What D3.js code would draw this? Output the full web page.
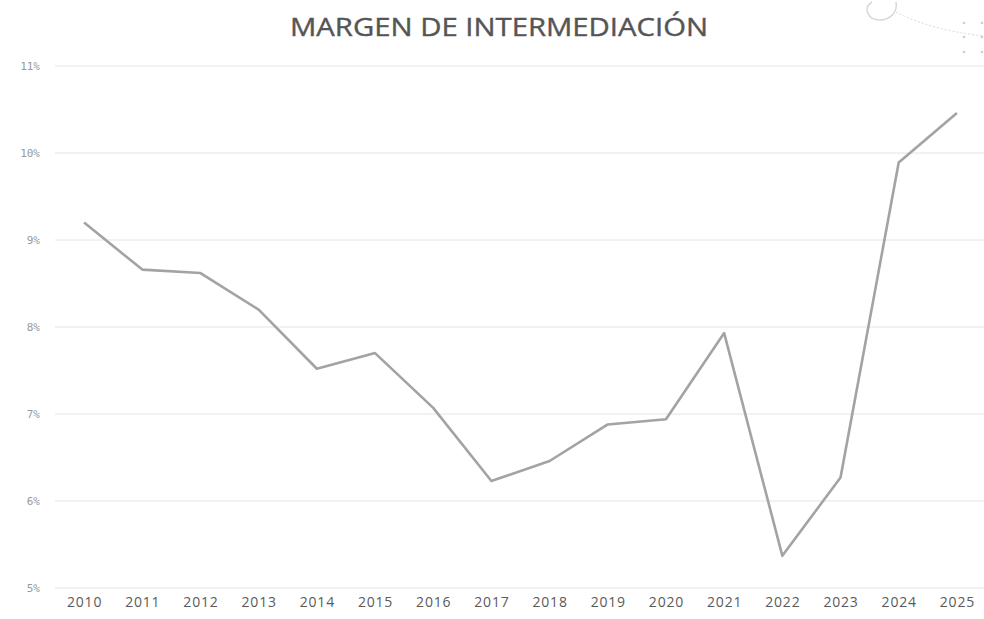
<!DOCTYPE html>
<html>
<head>
<meta charset="utf-8">
<script src="https://cdn.jsdelivr.net/npm/d3@7"></script>
<style>
  html, body { margin: 0; padding: 0; background: #fff; }
  svg { display: block; }
</style>
</head>
<body>
<div id="chart"></div>
<script>
// data
var years = ["2010", "2011", "2012", "2013", "2014", "2015", "2016", "2017",
             "2018", "2019", "2020", "2021", "2022", "2023", "2024", "2025"];
var margen = [9.2, 8.66, 8.62, 8.2, 7.52, 7.7, 7.07, 6.23,
              6.46, 6.88, 6.94, 7.93, 5.37, 6.27, 9.89, 10.46];
var yTicks = [5, 6, 7, 8, 9, 10, 11];

var svgWidth = 984;
var svgHeight = 619;

var svg = d3.select("#chart")
    .append("svg")
    .attr("width", svgWidth)
    .attr("height", svgHeight);

// scales
var xScale = d3.scalePoint()
    .domain(years)
    .range([55, 986])
    .padding(0.5);

var yScale = d3.scaleLinear()
    .domain([5, 11])
    .range([588, 66]);

// gridlines
svg.append("g")
    .selectAll("line")
    .data(yTicks)
    .enter()
    .append("line")
    .attr("x1", 55)
    .attr("x2", 984)
    .attr("y1", d => yScale(d))
    .attr("y2", d => yScale(d))
    .attr("stroke", "#e4e4e4")
    .attr("stroke-width", 1);

// y axis
var leftAxis = d3.axisLeft(yScale)
    .tickValues(yTicks)
    .tickSize(0)
    .tickPadding(0)
    .tickFormat(d => d + "%");

svg.append("g")
    .attr("transform", "translate(40,0)")
    .call(leftAxis)
    .call(g => g.select(".domain").remove())
    .selectAll("text")
    .attr("font-family", "DejaVu Sans Mono, monospace")
    .attr("font-size", "11px")
    .attr("fill", "#999");

// x axis
var bottomAxis = d3.axisBottom(xScale)
    .tickSize(0)
    .tickPadding(0);

svg.append("g")
    .attr("transform", "translate(0,597)")
    .call(bottomAxis)
    .call(g => g.select(".domain").remove())
    .selectAll("text")
    .attr("font-family", "Open Sans, sans-serif")
    .attr("font-size", "14px")
    .attr("letter-spacing", "0.8px")
    .attr("fill", "#5a5a5a");

// the line
var line = d3.line()
    .x((d, i) => xScale(years[i]))
    .y(d => yScale(d));

svg.append("path")
    .datum(margen)
    .attr("d", line)
    .attr("fill", "none")
    .attr("stroke", "#a3a3a3")
    .attr("stroke-width", 2.6)
    .attr("stroke-linejoin", "round");

// title
svg.append("text")
    .attr("x", 499)
    .attr("y", 36)
    .attr("text-anchor", "middle")
    .attr("font-family", "Open Sans, sans-serif")
    .attr("font-size", "26px")
    .attr("textLength", 418)
    .attr("lengthAdjust", "spacingAndGlyphs")
    .attr("stroke", "#555")
    .attr("stroke-width", 0.4)
    .attr("fill", "#555")
    .text("MARGEN DE INTERMEDIACIÓN");

// faint scan marks in the top-right corner
var deco = svg.append("g").attr("stroke", "#d6d6d6").attr("fill", "none");
deco.append("path")
    .attr("d", "M872,2 C862,8 868,20 880,20 C890,20 898,12 896,2")
    .attr("stroke-width", 1.5);
deco.append("path")
    .attr("d", "M896,12 Q930,30 984,36")
    .attr("stroke-width", 1)
    .attr("stroke-dasharray", "2,2");
var dots = [[964, 23], [982, 23], [964, 37], [982, 37], [964, 52], [982, 52]];
svg.append("g")
    .selectAll("circle")
    .data(dots)
    .enter()
    .append("circle")
    .attr("cx", d => d[0])
    .attr("cy", d => d[1])
    .attr("r", 1.3)
    .attr("fill", "#cfcfcf");
</script>
</body>
</html>
